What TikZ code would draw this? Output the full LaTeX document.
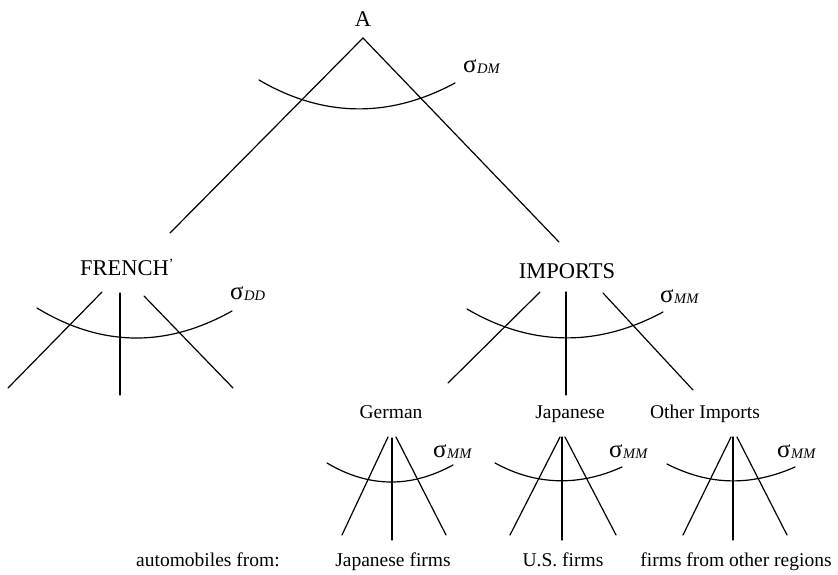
\documentclass[tikz,border=0pt]{standalone}
\usepackage{fontspec}
\setmainfont{Liberation Serif}
\newcommand\elast[1]{{\fontsize{25}{26}\selectfont σ}\kern0.5pt\raisebox{-1.5pt}{\fontsize{14.5}{15}\selectfont\itshape #1}}
\begin{document}
\begin{tikzpicture}[x=1pt,y=-1pt,
  edge/.style={line width=1.2pt, line cap=round},
  big/.style={font=\fontsize{22.5}{24}\selectfont, inner sep=0pt},
  small/.style={font=\fontsize{19.5}{21}\selectfont, inner sep=0pt},
  elas/.style={inner sep=0pt, anchor=base west}]
\useasboundingbox (0,0) rectangle (838,574);

% ---- top level: A ----
\node[big, anchor=base] (A) at (363,26) {A};
\coordinate (apex) at (363,38);
\coordinate (frEnd) at (170,233);
\coordinate (imEnd) at (559,242);
\draw[edge] (frEnd) -- (apex) -- (imEnd);
\draw[edge] (259,80) .. controls (324,118) and (390,118) .. (455,83);
\node[elas] (sDM) at (463,72) {\elast{DM}};

% ---- FRENCH nest ----
\node[big, anchor=base west] (fr) at (80,275) {FRENCH\raisebox{6.5pt}{\fontsize{14}{14}\selectfont’}};
\coordinate (frL1) at (102,292); \coordinate (frL2) at (8,388);
\coordinate (frM1) at (120,293); \coordinate (frM2) at (120,395);
\coordinate (frR1) at (144,296); \coordinate (frR2) at (233,388);
\draw[edge] (frL1) -- (frL2);
\draw[edge] (frM1) -- (frM2);
\draw[edge] (frR1) -- (frR2);
\draw[edge] (37,308) .. controls (102,347.5) and (167,347.5) .. (232,311);
\node[elas] (sDD) at (230,299) {\elast{DD}};

% ---- IMPORTS nest ----
\node[big, anchor=base] (im) at (567,278) {IMPORTS};
\coordinate (imL1) at (540,292); \coordinate (imL2) at (448,383);
\coordinate (imM1) at (566,292); \coordinate (imM2) at (566,395);
\coordinate (imR1) at (603,293); \coordinate (imR2) at (693,390);
\draw[edge] (imL1) -- (imL2);
\draw[edge] (imM1) -- (imM2);
\draw[edge] (imR1) -- (imR2);
\draw[edge] (467,309) .. controls (532,347) and (598,347) .. (663,312);
\node[elas] (sIM) at (660,302) {\elast{MM}};

% ---- German ----
\node[small, anchor=base] (ger) at (391,418) {German};
\coordinate (gL1) at (388,437); \coordinate (gL2) at (342,535);
\coordinate (gM1) at (392,438); \coordinate (gM2) at (392,540);
\coordinate (gR1) at (396,437); \coordinate (gR2) at (446,535);
\draw[edge] (gL1) -- (gL2);
\draw[edge] (gM1) -- (gM2);
\draw[edge] (gR1) -- (gR2);
\draw[edge] (327,463) .. controls (369,488) and (411,488) .. (453,465);
\node[elas] (sG) at (433,457) {\elast{MM}};

% ---- Japanese ----
\node[small, anchor=base] (jap) at (570,418) {Japanese};
\coordinate (jL1) at (560,437); \coordinate (jL2) at (510,535);
\coordinate (jM1) at (562,437); \coordinate (jM2) at (562,540);
\coordinate (jR1) at (565,437); \coordinate (jR2) at (616,535);
\draw[edge] (jL1) -- (jL2);
\draw[edge] (jM1) -- (jM2);
\draw[edge] (jR1) -- (jR2);
\draw[edge] (495,463) .. controls (537,486) and (580,486) .. (622,467);
\node[elas] (sJ) at (609,457) {\elast{MM}};

% ---- Other Imports ----
\node[small, anchor=base] (oth) at (705,418) {Other Imports};
\coordinate (oL1) at (731,437); \coordinate (oL2) at (683,535);
\coordinate (oM1) at (733,437); \coordinate (oM2) at (733,540);
\coordinate (oR1) at (737,437); \coordinate (oR2) at (787,535);
\draw[edge] (oL1) -- (oL2);
\draw[edge] (oM1) -- (oM2);
\draw[edge] (oR1) -- (oR2);
\draw[edge] (667,464) .. controls (710,486) and (752,486) .. (795,467);
\node[elas] (sO) at (777,457) {\elast{MM}};

% ---- bottom row ----
\node[small, anchor=base] (auto) at (208,566) {automobiles from:};
\node[small, anchor=base] (jf) at (393,566) {Japanese firms};
\node[small, anchor=base] (usf) at (563,566) {U.S. firms};
\node[small, anchor=base] (orf) at (736,566) {firms from other regions};
\end{tikzpicture}
\end{document}
